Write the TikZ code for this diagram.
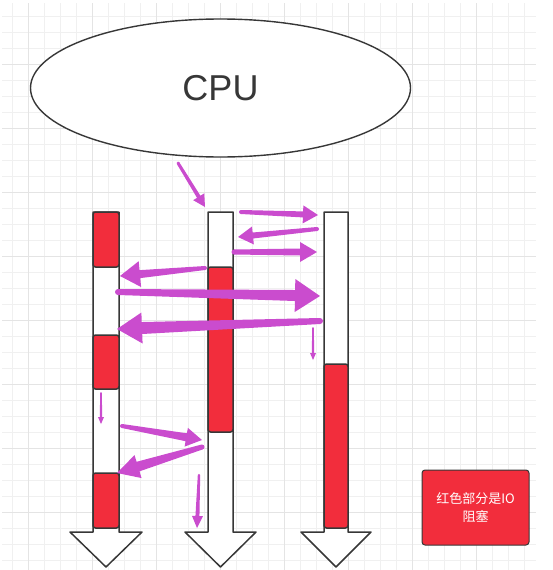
\documentclass[tikz,border=0pt]{standalone}
\usepackage{fontspec}
\setmainfont{Liberation Sans}
\newfontfamily\cjk{Noto Sans CJK SC}
\usetikzlibrary{calc,shapes.geometric}
\definecolor{rojoio}{RGB}{242,45,60}
\definecolor{morado}{RGB}{202,76,206}
\definecolor{borde}{RGB}{55,55,55}
\definecolor{rejilla}{RGB}{240,240,240}
\definecolor{rejillab}{RGB}{228,228,228}

% flecha ahusada: extremos, semiancho inicial y final, semiancho y largo de la punta
\newcommand{\flecha}[6]{%
  \coordinate (fb) at ($(#2)!#6!(#1)$);
  \fill[morado] ($(#1)!#3!90:(#2)$) -- ($(fb)!#4!-90:(#1)$) -- ($(fb)!#5!-90:(#1)$) -- (#2)
    -- ($(fb)!#5!90:(#1)$) -- ($(fb)!#4!90:(#1)$) -- ($(#1)!#3!-90:(#2)$) -- cycle;
  \fill[morado] (#1) circle (#3);
}

\begin{document}
\begin{tikzpicture}[x=1pt,y=-1pt,
    columna/.style={draw=borde,line width=1.5pt,fill=white,line join=round},
    bloqueio/.style={draw=borde,line width=1.5pt,fill=rojoio,rounded corners=2.5pt},
    cpu/.style={draw=borde,line width=1.4pt,fill=white,ellipse,minimum width=380pt,minimum height=138pt,inner sep=0pt,
        font=\fontsize{36}{40}\selectfont,text=borde},
    leyenda/.style={draw=borde,line width=1pt,fill=rojoio,rounded corners=3pt,minimum width=107pt,minimum height=75pt,
        inner sep=0pt,align=center,text=white,font=\cjk\fontsize{13}{18}\selectfont}]
    \useasboundingbox (0,0) rectangle (552,570);
    % rejilla de fondo
    \foreach \x in {12,28,...,524} \draw[rejilla,line width=.8pt] (\x,3) -- (\x,570);
    \foreach \y in {16,32,...,560} \draw[rejilla,line width=.8pt] (2,\y) -- (536,\y);
    \foreach \x in {28,92,...,476} \draw[rejillab,line width=.8pt] (\x,3) -- (\x,570);
    \foreach \y in {64,128,...,512} \draw[rejillab,line width=.8pt] (2,\y) -- (536,\y);

    \node[cpu] (cpu) at (220.5,88) {CPU};

    % los tres hilos, con sus tramos de bloqueo
    \foreach \xa/\xb in {93/119, 208/233, 324/348}
        \draw[columna] (\xa,212) -- (\xb,212) -- (\xb,532) -- (\xb+23,532) -- ({(\xa+\xb)/2},567)
            -- (\xa-23,532) -- (\xa,532) -- cycle;
    \foreach \xa/\xb/\ya/\yb in {93/119/212/267, 93/119/335/389, 93/119/473/528, 208/233/267/432, 324/348/364/528}
        \draw[bloqueio] (\xa,\ya) rectangle (\xb,\yb);

    \coordinate (p0) at (178,163);  \coordinate (q0) at (205,207);
    \coordinate (p1) at (241,212);  \coordinate (q1) at (318,215);
    \coordinate (p2) at (317,229);  \coordinate (q2) at (238,237);
    \coordinate (p3) at (234,252);  \coordinate (q3) at (317,252);
    \coordinate (p4) at (205,268);  \coordinate (q4) at (120,276);
    \coordinate (p5) at (118,292);  \coordinate (q5) at (320,296);
    \coordinate (p6) at (320,321);  \coordinate (q6) at (117,329);
    \coordinate (p7) at (313,328);  \coordinate (q7) at (313,360);
    \coordinate (p8) at (101,393);  \coordinate (q8) at (101,424);
    \coordinate (p9) at (122,426);  \coordinate (q9) at (202,440);
    \coordinate (p10) at (202,447); \coordinate (q10) at (117,473);
    \coordinate (p11) at (199,475); \coordinate (q11) at (197,528);

    \flecha{p0}{q0}{1.5pt}{2pt}{6.5pt}{12pt}
    \flecha{p1}{q1}{2pt}{3pt}{9pt}{15pt}
    \flecha{p2}{q2}{2pt}{3pt}{9pt}{15pt}
    \flecha{p3}{q3}{2.5pt}{3.5pt}{10pt}{17pt}
    \flecha{p4}{q4}{2pt}{4pt}{13pt}{20pt}
    \flecha{p5}{q5}{3pt}{5.5pt}{16.5pt}{25pt}
    \flecha{p6}{q6}{3pt}{6pt}{15.5pt}{25pt}
    \flecha{p7}{q7}{.8pt}{1.2pt}{3pt}{7pt}
    \flecha{p8}{q8}{.8pt}{1.2pt}{3pt}{7pt}
    \flecha{p9}{q9}{2pt}{4pt}{9.5pt}{16pt}
    \flecha{p10}{q10}{2.5pt}{5pt}{12pt}{22pt}
    \flecha{p11}{q11}{1.2pt}{2pt}{5.5pt}{12pt}

    \node[leyenda] (nota) at (475.5,507.5) {红色部分是IO\\阻塞};
\end{tikzpicture}
\end{document}
